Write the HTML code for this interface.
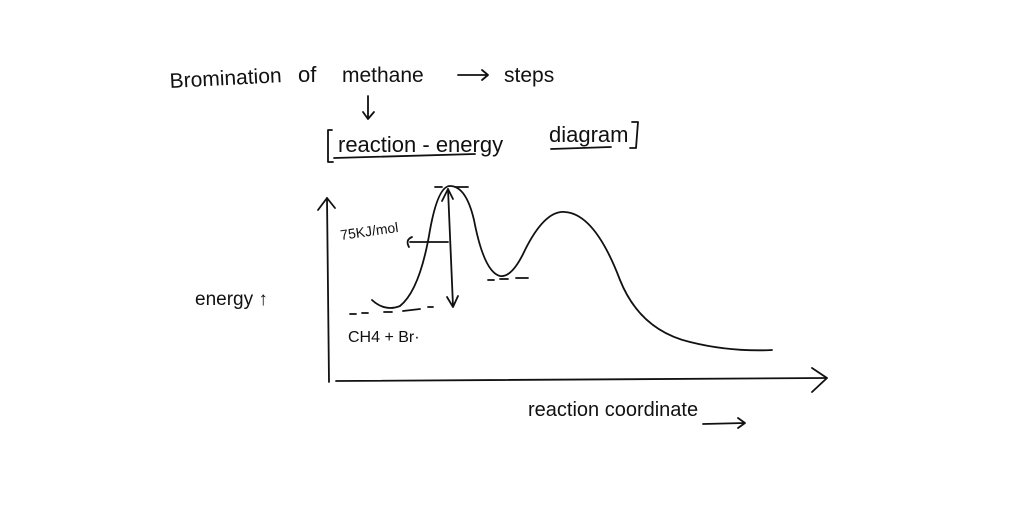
<!DOCTYPE html>
<html><head><style>html,body{margin:0;padding:0;background:#fff;width:1024px;height:512px;overflow:hidden}</style></head>
<body>
<svg width="1024" height="512" viewBox="0 0 1024 512" xmlns="http://www.w3.org/2000/svg">
<rect width="1024" height="512" fill="#fff"/>
<g fill="none" stroke="#111" stroke-width="1.8" stroke-linecap="round" stroke-linejoin="round">
<!-- axes -->
<path d="M327 198 L329 382"/>
<path d="M318 210 L327 198 L335 208"/>
<path d="M336 381 L826 378"/>
<path d="M812 368 L827 378 L812 392"/>
<!-- curve -->
<path d="M372 300 Q385 312 400 306 Q420 290 430 230 Q438 186 450 186 Q466 186 474 220 Q484 272 500 276 Q512 278 525 250 Q545 210 565 212 Q595 214 620 280 Q640 330 690 342 Q730 352 772 350"/>
<!-- dashes -->
<path d="M350 314 L356 314 M362 313 L368 313 M384 312 L392 312 M403 311 L420 309 M428 307 L433 307"/>
<path d="M435 187 L442 187 M455 187 L468 187"/>
<path d="M488 280 L494 280 M500 279 L508 279 M516 278 L528 278"/>
<!-- vertical arrow -->
<path d="M448 189 L453 306"/>
<path d="M442 201 L448 189 L453 199"/>
<path d="M447 297 L453 307 L458 296"/>
<path d="M410 242 L448 242"/>
<path d="M412 237 Q405 240 409 247"/>
<!-- arrow under methane -->
<path d="M368 96 L368 118 M363 112 L368 119 L374 112"/>
<!-- arrow to steps -->
<path d="M458 75 L488 75 M482 70 L488 75 L482 80"/>
<!-- brackets -->
<path d="M332 130 L328 130 L328 162 L333 162"/>
<path d="M632 122 L638 122 L636 148 L630 148"/>
<path d="M334 158 L475 154"/>
<path d="M551 149 L611 147"/>
<path d="M703 424 L745 423 M738 418 L745 423 L738 428"/>
</g>
<g font-family="'Liberation Sans', sans-serif" fill="#111">
<text x="170" y="88" font-size="21" transform="rotate(-3 170 88)">Bromination</text>
<text x="298" y="82" font-size="22">of</text>
<text x="342" y="82" font-size="21">methane</text>
<text x="504" y="82" font-size="21">steps</text>
<text x="338" y="152" font-size="22">reaction - energy</text>
<text x="549" y="142" font-size="22">diagram</text>
<text x="195" y="305" font-size="19">energy ↑</text>
<text x="341" y="240" font-size="14" transform="rotate(-8 341 240)">75KJ/mol</text>
<text x="348" y="342" font-size="16">CH4 + Br·</text>
<text x="528" y="416" font-size="20">reaction  coordinate</text>
</g>
</svg>
</body></html>
